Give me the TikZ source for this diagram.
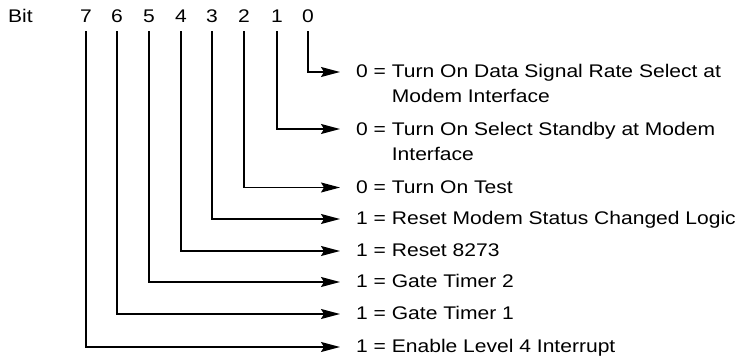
\documentclass[tikz,border=0pt]{standalone}
\usepackage{fontspec}
\setmainfont[FakeStretch=1.15]{Liberation Sans}
\usetikzlibrary{arrows.meta}
\begin{document}
\begin{tikzpicture}[x=1pt,y=-1pt,
  every node/.style={inner sep=0pt,font=\fontsize{18.3}{25}\selectfont},
  digit/.style={anchor=base},
  desc/.style={anchor=base west,align=left},
  conn/.style={line width=1.4pt,-{Stealth[length=19pt,width=10pt,inset=3pt]}}]
\useasboundingbox (0,0) rectangle (740,359);
\node[anchor=base west] (bit) at (8,22) {Bit};
\foreach \n/\x in {7/86,6/117,5/149,4/181,3/212,2/244,1/277,0/308}
  \node[digit] (b\n) at (\x,22) {\n};
\foreach \n/\y in {0/72,1/129,2/187.5,3/219,4/251,5/282,6/314,7/347}
  \coordinate (e\n) at (340,\y);
\node[desc] (t0) at (356,102) {0 = Turn On Data Signal Rate Select at\\\hphantom{0 = }Modem Interface};
\node[desc] (t1) at (356,160) {0 = Turn On Select Standby at Modem\\\hphantom{0 = }Interface};
\node[desc] (t2) at (356,193) {0 = Turn On Test};
\node[desc] (t3) at (356,224.5) {1 = Reset Modem Status Changed Logic};
\node[desc] (t4) at (356,256.5) {1 = Reset 8273};
\node[desc] (t5) at (356,287.5) {1 = Gate Timer 2};
\node[desc] (t6) at (356,319.5) {1 = Gate Timer 1};
\node[desc] (t7) at (356,352.5) {1 = Enable Level 4 Interrupt};
\foreach \n in {0,...,7}
  \draw[conn] ([yshift=-9pt]b\n.base) |- (e\n);
\end{tikzpicture}
\end{document}
